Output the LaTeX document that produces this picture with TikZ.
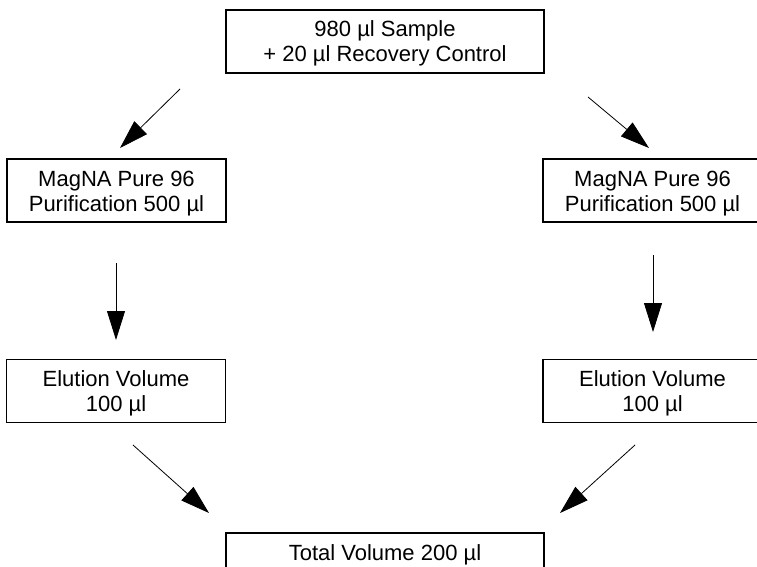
\documentclass[tikz,border=0pt]{standalone}
\usepackage{fontspec}
\setmainfont{Liberation Sans}
\usetikzlibrary{arrows.meta}
\newcommand{\bxt}[1]{\raisebox{-3pt}[\height][\depth]{\begin{tabular}{@{}c@{}}#1\end{tabular}}\hspace{11pt}}
\begin{document}
\begin{tikzpicture}[x=1pt,y=-1pt,
  box/.style={draw, line width=1.5pt, inner sep=0pt, minimum height=63pt,
    font=\fontsize{22}{25}\selectfont},
  wbox/.style={box, minimum width=318pt},
  sbox/.style={box, minimum width=219pt},
  arr/.style={line width=0.8pt, -{Triangle[length=29pt,width=18pt]}}]
\useasboundingbox (0,0) rectangle (757,567);
\node[wbox] (top) at (385,41.5) {\bxt{980 µl Sample\\+ 20 µl Recovery Control}};
\node[sbox] (magL) at (116.5,190.5) {\bxt{MagNA Pure 96\\Purification 500 µl}};
\node[sbox] (magR) at (652.5,190.5) {\bxt{MagNA Pure 96\\Purification 500 µl}};
\node[sbox] (eluL) at (116,391) {\bxt{Elution Volume\\100 µl}};
\node[sbox] (eluR) at (652.5,391) {\bxt{Elution Volume\\100 µl}};
\node[wbox] (tot) at (385,564.5) {\bxt{Total Volume 200 µl\\ \mbox{}}};
\coordinate (a1s) at (180,89);  \coordinate (a1e) at (120,148);
\coordinate (a2s) at (588,97);  \coordinate (a2e) at (649,148);
\coordinate (a3s) at (116,263); \coordinate (a3e) at (116,340);
\coordinate (a4s) at (653,255); \coordinate (a4e) at (653,332);
\coordinate (a5s) at (133,445); \coordinate (a5e) at (209,513);
\coordinate (a6s) at (635,445); \coordinate (a6e) at (560,513);
\draw[arr] (a1s) -- (a1e);
\draw[arr] (a2s) -- (a2e);
\draw[arr] (a3s) -- (a3e);
\draw[arr] (a4s) -- (a4e);
\draw[arr] (a5s) -- (a5e);
\draw[arr] (a6s) -- (a6e);
\end{tikzpicture}
\end{document}
